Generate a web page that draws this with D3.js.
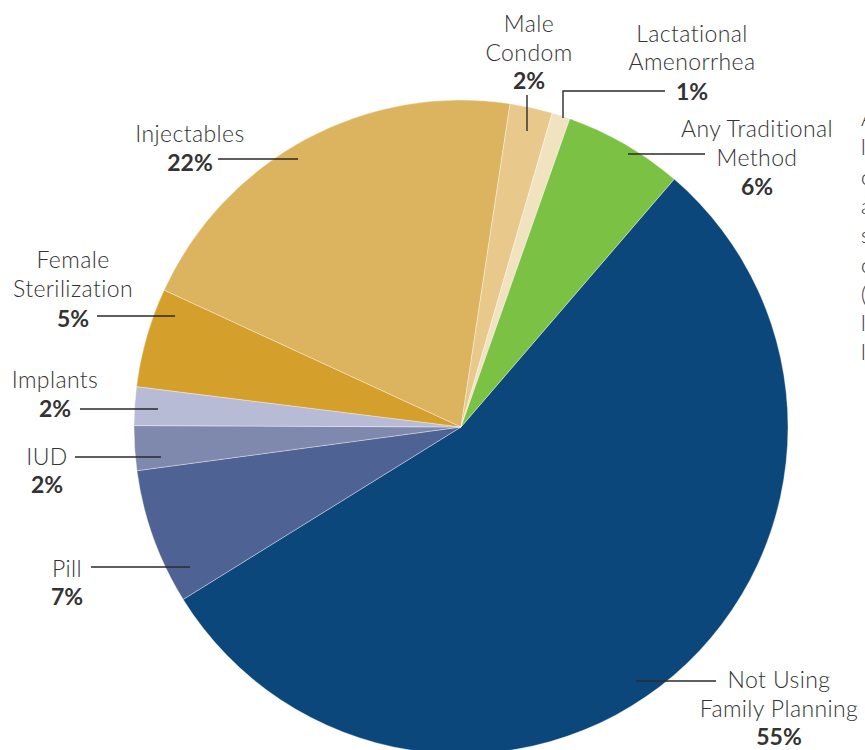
<!DOCTYPE html>
<html>
<head>
<meta charset="utf-8">
<script src="https://cdn.jsdelivr.net/npm/d3@7"></script>
<style>
  html, body { margin: 0; padding: 0; background: #fff; }
  svg { display: block; }
  text { font-family: Lato, "Open Sans", sans-serif; fill: #333; }
</style>
</head>
<body>
<svg id="chart" width="865" height="750"></svg>
<script>
// ---- data ----
const categories = ["Not Using Family Planning", "Pill", "IUD", "Implants", "Female Sterilization",
                    "Injectables", "Male Condom", "Lactational Amenorrhea", "Any Traditional Method"];
const shares = [54.8, 6.7, 2.2, 1.9, 4.9, 20.5, 2.1, 0.9, 5.9];
const pctLabels = ["55%", "7%", "2%", "2%", "5%", "22%", "2%", "1%", "6%"];
const labelLines = [["Not Using", "Family Planning"], ["Pill"], ["IUD"], ["Implants"], ["Female", "Sterilization"],
                    ["Injectables"], ["Male", "Condom"], ["Lactational", "Amenorrhea"], ["Any Traditional", "Method"]];
const noteLines = ["Among", "lower-income", "countries,", "a large", "share of", "couples", "(percent)", "lack", "lasting"];

// ---- style / layout ----
const colors = ["#0c477c", "#4e6393", "#7f88ad", "#b8bbd5", "#d49f2b", "#dcb35e", "#e8c98b", "#f2e3c0", "#7bc143"];
const cx = 461, cy = 427, R = 327;
const startDeg = 40.7;

// label layout: text centre x, baselines for lines, pct baseline, leader polyline
const layout = [
  { x: 779, ys: [688, 717], py: 745, leader: [[636, 681], [716, 681]] },
  { x: 67,  ys: [577],      py: 605, leader: [[91, 567], [190, 567]] },
  { x: 47,  ys: [465],      py: 493, leader: [[75, 457], [161, 457]] },
  { x: 55,  ys: [388],      py: 417, leader: [[80, 409], [158, 409]] },
  { x: 73,  ys: [268, 297], py: 327, leader: [[97, 316], [175, 316]] },
  { x: 190, ys: [142],      py: 171, leader: [[218, 159], [298, 159]] },
  { x: 529, ys: [32, 61],   py: 89,  leader: [[527, 95], [527, 131]] },
  { x: 692, ys: [42, 70],   py: 100, leader: [[665, 91], [563, 91], [563, 118]] },
  { x: 757, ys: [137, 166], py: 195, leader: [[628, 154], [705, 154]] }
];

const svg = d3.select("#chart");
const g = svg.append("g").attr("transform", `translate(${cx},${cy})`);

const pie = d3.pie().sort(null).value(d => d)
  .startAngle(startDeg * Math.PI / 180)
  .endAngle(startDeg * Math.PI / 180 + 2 * Math.PI);
const arc = d3.arc().innerRadius(0).outerRadius(R);

g.selectAll("path.slice")
  .data(pie(shares))
  .join("path")
  .attr("class", "slice")
  .attr("d", arc)
  .attr("fill", (d, i) => colors[i])
  .attr("stroke", "#ffffff")
  .attr("stroke-width", 0.6)
  .attr("stroke-opacity", 0.6);

// labels
const line = d3.line();
categories.forEach((c, i) => {
  const L = layout[i];
  svg.append("path")
    .attr("d", line(L.leader))
    .attr("fill", "none")
    .attr("stroke", "#2a2a2a")
    .attr("stroke-width", 1.4);
  labelLines[i].forEach((t, j) => {
    svg.append("text")
      .attr("x", L.x).attr("y", L.ys[j])
      .attr("text-anchor", "middle")
      .attr("font-size", 23)
      .attr("font-weight", 300)
      .attr("letter-spacing", 0.4)
      .text(t);
  });
  svg.append("text")
    .attr("x", L.x).attr("y", L.py)
    .attr("text-anchor", "middle")
    .attr("font-size", 23)
    .attr("font-weight", 700)
    .text(pctLabels[i]);
});

// clipped side note at the right edge
noteLines.forEach((t, j) => {
  svg.append("text")
    .attr("x", 861).attr("y", 126 + j * 29.3)
    .attr("font-size", 21)
    .attr("font-weight", 300)
    .attr("fill", "#333")
    .text(t);
});
</script>
</body>
</html>
